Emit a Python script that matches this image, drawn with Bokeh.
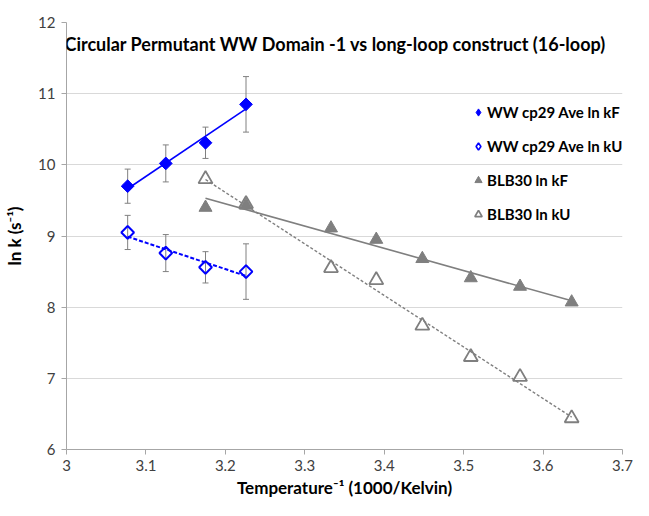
import numpy as np
from bokeh.plotting import figure
from bokeh.models import (ColumnDataSource, Whisker, TeeHead, Legend, LegendItem,
                          FixedTicker, Range1d, Label)
from bokeh.embed import file_html
from bokeh.resources import INLINE

# ---------------- data ----------------
ww_x = [3.077, 3.125, 3.175, 3.226]
ww_kF = [9.70, 10.02, 10.31, 10.85]
ww_kU = [9.05, 8.76, 8.56, 8.50]
ww_err = [0.24, 0.26, 0.22, 0.39]

blb_x = [3.175, 3.226, 3.333, 3.390, 3.448, 3.509, 3.571, 3.636]
blb_kF = [9.40, 9.43, 9.11, 8.95, 8.68, 8.41, 8.29, 8.07]
blb_kU = [9.80, 9.45, 8.55, 8.38, 7.74, 7.30, 7.02, 6.44]

x_ticks = [3.0, 3.1, 3.2, 3.3, 3.4, 3.5, 3.6, 3.7]
x_tick_labels = ["3", "3.1", "3.2", "3.3", "3.4", "3.5", "3.6", "3.7"]
y_ticks = [6, 7, 8, 9, 10, 11, 12]

title_text = "Circular Permutant WW Domain -1 vs long-loop construct (16-loop)"
series_names = ["WW cp29 Ave ln kF", "WW cp29 Ave ln kU", "BLB30 ln kF", "BLB30 ln kU"]

FONT = "Lato"
BLUE = "#0000FF"
GRAY = "#7F7F7F"

p = figure(width=633, height=500, output_backend="svg", toolbar_location=None,
           x_range=Range1d(3.0, 3.7), y_range=Range1d(6, 12),
           min_border_left=66, min_border_right=11, min_border_top=22, min_border_bottom=45)
p.outline_line_color = None
p.background_fill_color = "white"
p.border_fill_color = "white"

# axes
p.xaxis.ticker = FixedTicker(ticks=x_ticks)
p.xaxis.major_label_overrides = {t: l for t, l in zip(x_ticks, x_tick_labels)}
p.yaxis.ticker = FixedTicker(ticks=y_ticks)
for ax in (p.xaxis[0], p.yaxis[0]):
    ax.axis_line_color = "#A6A6A6"
    ax.major_tick_line_color = "#A6A6A6"
    ax.major_tick_out = 5
    ax.major_tick_in = 0
    ax.minor_tick_line_color = None
    ax.major_label_text_font = FONT
    ax.major_label_text_font_size = "15px"
    ax.major_label_text_color = "#404040"
    ax.axis_label_text_font = FONT
    ax.axis_label_text_font_size = "17px"
    ax.axis_label_text_font_style = "bold"
    ax.axis_label_text_color = "#000000"
p.xaxis.axis_label = "Temperature\u207b\u00b9 (1000/Kelvin)"
p.yaxis.axis_label = "ln k (s\u207b\u00b9)"
p.xaxis.major_label_standoff = 5
p.xaxis.axis_label_standoff = 3
p.yaxis.major_label_standoff = 6
p.yaxis.axis_label_standoff = 10

p.xgrid.grid_line_color = None
p.ygrid.grid_line_color = "#D9D9D9"
p.ygrid.grid_line_width = 1.2

# trendlines (linear least squares)
def fit(xs, ys):
    m, b = np.polyfit(xs, ys, 1)
    xe = [min(xs), max(xs)]
    return xe, [m * v + b for v in xe]

fx, fy = fit(ww_x, ww_kF)
p.line(fx, fy, line_color=BLUE, line_width=1.6)
fx, fy = fit(ww_x, ww_kU)
p.line(fx, fy, line_color=BLUE, line_width=2, line_dash="4 2")
fx, fy = fit(blb_x, blb_kF)
p.line(fx, fy, line_color=GRAY, line_width=1.6)
fx, fy = fit(blb_x, blb_kU)
p.line(fx, fy, line_color=GRAY, line_width=1.4, line_dash="3 2")

# error bars
for ys in (ww_kF, ww_kU):
    src = ColumnDataSource(dict(x=ww_x,
                                lo=[y - e for y, e in zip(ys, ww_err)],
                                hi=[y + e for y, e in zip(ys, ww_err)]))
    w = Whisker(source=src, base="x", lower="lo", upper="hi", line_color="#808080", line_width=1,
                upper_head=TeeHead(size=6, line_color="#808080", line_width=1),
                lower_head=TeeHead(size=6, line_color="#808080", line_width=1))
    p.add_layout(w)

# markers
r1 = p.scatter(ww_x, ww_kF, marker="square", angle=np.pi / 4, size=9,
               fill_color=BLUE, line_color=BLUE)
r2 = p.scatter(ww_x, ww_kU, marker="square", angle=np.pi / 4, size=9,
               fill_alpha=0, line_color=BLUE, line_width=2)
r3 = p.scatter(blb_x, blb_kF, marker="triangle", size=13,
               fill_color=GRAY, line_color=GRAY)
r4 = p.scatter(blb_x, blb_kU, marker="triangle", size=14,
               fill_alpha=0, line_color=GRAY, line_width=1.8)

# legend keys (diamond shaped; a single NaN point, so nothing is drawn in the plot)
k1 = p.scatter(x=[np.nan], y=[np.nan], marker="diamond", fill_color=BLUE, line_color=BLUE)
k2 = p.scatter(x=[np.nan], y=[np.nan], marker="diamond", fill_alpha=0, line_color=BLUE, line_width=1.6)

legend = Legend(items=[LegendItem(label=n, renderers=[r]) for n, r in
                       zip(series_names, [k1, k2, r3, r4])],
                location=(398, 221), orientation="vertical")
legend.background_fill_alpha = 0
legend.border_line_alpha = 0
legend.label_text_font = FONT
legend.label_text_font_size = "15px"
legend.label_text_font_style = "bold"
legend.label_text_color = "#000000"
legend.glyph_width = 18
legend.glyph_height = 18
legend.label_height = 18
legend.spacing = 16
legend.padding = 5
legend.label_standoff = 0
legend.margin = 0
p.add_layout(legend, "center")

title = Label(x=3.0, y=12, x_offset=-2, y_offset=-21, text=title_text,
              text_font=FONT, text_font_size="18px", text_font_style="bold",
              text_color="#000000", text_baseline="middle", text_align="left")
p.add_layout(title)

open("out.html", "w").write(file_html(p, INLINE))
